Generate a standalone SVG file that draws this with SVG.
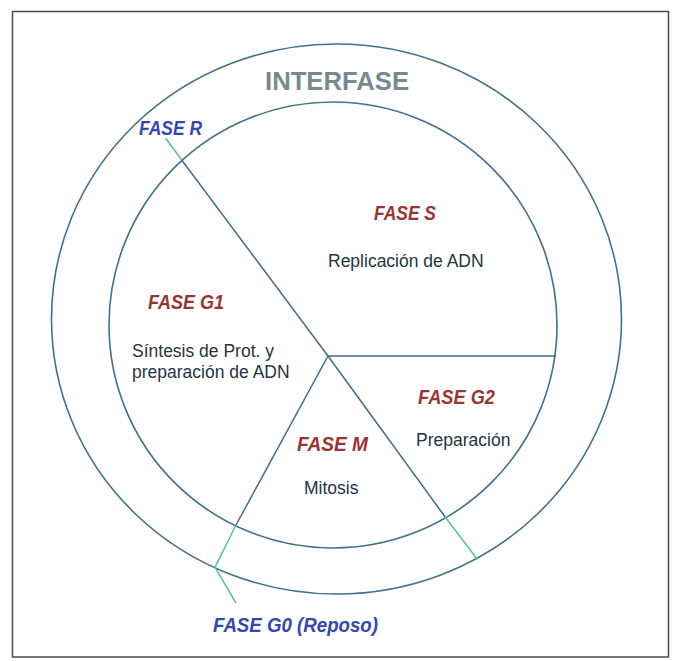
<svg xmlns="http://www.w3.org/2000/svg" width="675" height="661" viewBox="0 0 675 661">
<style>
.ring{fill:none;stroke:#41718a;stroke-width:1.6}
.spoke{fill:none;stroke:#3f6d85;stroke-width:1.5}
.lead{fill:none;stroke:#5cbf9c;stroke-width:1.5}
.fase{font-family:"Liberation Sans",Arial,sans-serif;font-weight:bold;font-style:italic;font-size:20px;fill:#9a3431}
.blue{fill:#3447b0}
.body{font-family:"Liberation Sans",Arial,sans-serif;font-size:17.5px;fill:#25343f}
.title{font-family:"Liberation Sans",Arial,sans-serif;font-weight:bold;font-size:25px;fill:#778a91}
</style>
<rect x="0" y="0" width="675" height="661" fill="#ffffff"/>
<rect x="12.5" y="11.5" width="656" height="645.5" fill="none" stroke="#4a4a4a" stroke-width="1.5"/>
<g id="rings">
<ellipse class="ring" cx="336.5" cy="319" rx="285" ry="275"/>
<ellipse class="ring" cx="333" cy="325" rx="224" ry="223"/>
</g>
<g id="connectors">
<line class="spoke" x1="328" y1="356" x2="181.7" y2="160"/>
<line class="spoke" x1="328" y1="356" x2="556" y2="356"/>
<line class="spoke" x1="328" y1="356" x2="445" y2="516.7"/>
<line class="spoke" x1="328" y1="356" x2="236" y2="525"/>
<line class="lead" x1="181.7" y1="160" x2="165.7" y2="138.3"/>
<line class="lead" x1="445" y1="516.7" x2="477.3" y2="559.3"/>
<polyline class="lead" points="236,525 215,567.3 236,603"/>
</g>
<g id="interfase"><text class="title" x="265" y="90" textLength="144" lengthAdjust="spacingAndGlyphs">INTERFASE</text></g>
<g id="fase-r"><text class="fase blue" x="139" y="135" textLength="63" lengthAdjust="spacingAndGlyphs">FASE R</text></g>
<g id="fase-s">
<text class="fase" x="374" y="220" textLength="62" lengthAdjust="spacingAndGlyphs">FASE S</text>
<text class="body" x="328" y="267">Replicación de ADN</text>
</g>
<g id="fase-g1">
<text class="fase" x="148" y="309" textLength="76" lengthAdjust="spacingAndGlyphs">FASE G1</text>
<text class="body" x="132" y="357">Síntesis de Prot. y</text>
<text class="body" x="132" y="378">preparación de ADN</text>
</g>
<g id="fase-g2">
<text class="fase" x="418" y="404" textLength="77" lengthAdjust="spacingAndGlyphs">FASE G2</text>
<text class="body" x="416" y="446">Preparación</text>
</g>
<g id="fase-m">
<text class="fase" x="297" y="451" textLength="71" lengthAdjust="spacingAndGlyphs">FASE M</text>
<text class="body" x="304" y="494">Mitosis</text>
</g>
<g id="fase-g0"><text class="fase blue" x="213" y="632" textLength="165" lengthAdjust="spacingAndGlyphs">FASE G0 (Reposo)</text></g>
</svg>
